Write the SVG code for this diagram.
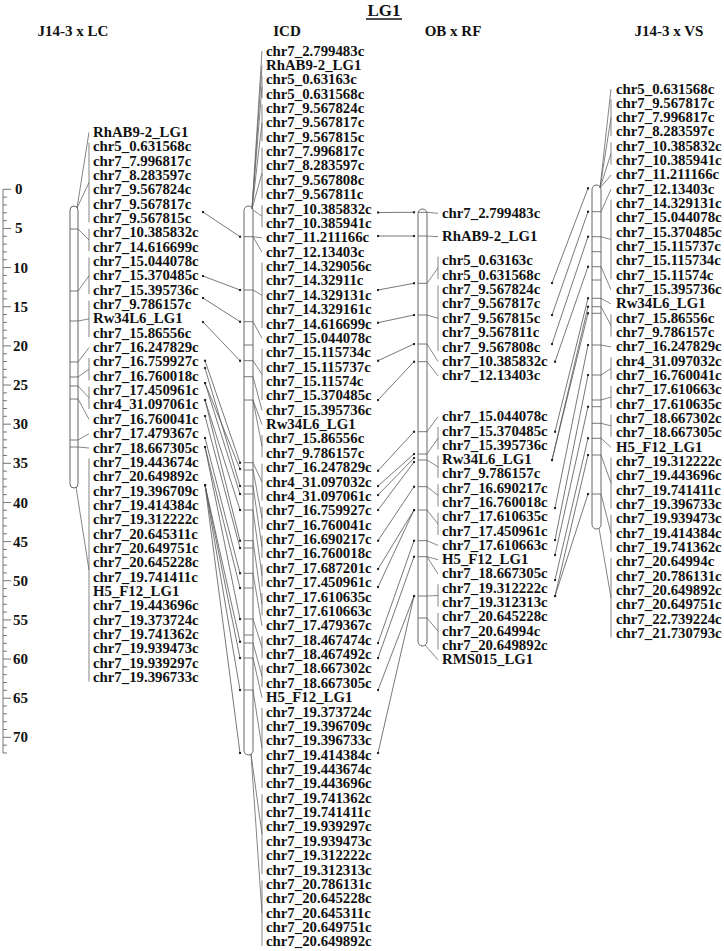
<svg xmlns="http://www.w3.org/2000/svg" width="724" height="951" viewBox="0 0 724 951">
<defs>
<style>
text{font-family:"Liberation Serif","Times New Roman",serif;font-weight:bold;fill:#111}
.lb{font-size:14.8px}
.hd{font-size:15px;text-anchor:middle}
.sc{font-size:15px}
.bar{fill:#fff;stroke:#555;stroke-width:0.9}
.ln{fill:none;stroke:#666;stroke-width:0.8}
.tk{fill:none;stroke:#555;stroke-width:0.8}
.cn{stroke:#555;stroke-width:0.8;marker-start:url(#dot);marker-end:url(#dot)}
</style>
<marker id="dot" viewBox="0 0 4 4" refX="2" refY="2" markerWidth="3" markerHeight="3" markerUnits="userSpaceOnUse"><circle cx="2" cy="2" r="1.6" fill="#222"/></marker>
</defs>
<rect width="724" height="951" fill="#fff"/>
<g id="title">
<text x="384" y="16" style="font-size:17px;text-anchor:middle">LG1</text>
<line x1="366" y1="19" x2="402" y2="19" stroke="#111" stroke-width="1.4"/>
<text class="hd" x="73" y="36">J14-3 x LC</text>
<text class="hd" x="287" y="36">ICD</text>
<text class="hd" x="453" y="36">OB x RF</text>
<text class="hd" x="669" y="36">J14-3 x VS</text>
</g>
<g id="scale">
<path class="tk" d="M3 189.3V753M3 189.3h8m-8 7.829h4m-4 7.829h4m-4 7.829h4m-4 7.829h4m-4 7.829h8m-8 7.829h4m-4 7.829h4m-4 7.829h4m-4 7.829h4m-4 7.829h8m-8 7.829h4m-4 7.829h4m-4 7.829h4m-4 7.829h4m-4 7.829h8m-8 7.829h4m-4 7.829h4m-4 7.829h4m-4 7.829h4m-4 7.829h8m-8 7.829h4m-4 7.829h4m-4 7.829h4m-4 7.829h4m-4 7.829h8m-8 7.829h4m-4 7.829h4m-4 7.829h4m-4 7.829h4m-4 7.829h8m-8 7.829h4m-4 7.829h4m-4 7.829h4m-4 7.829h4m-4 7.829h8m-8 7.829h4m-4 7.829h4m-4 7.829h4m-4 7.829h4m-4 7.829h8m-8 7.829h4m-4 7.829h4m-4 7.829h4m-4 7.829h4m-4 7.829h8m-8 7.829h4m-4 7.829h4m-4 7.829h4m-4 7.829h4m-4 7.829h8m-8 7.829h4m-4 7.829h4m-4 7.829h4m-4 7.829h4m-4 7.829h8m-8 7.829h4m-4 7.829h4m-4 7.829h4m-4 7.829h4m-4 7.829h8m-8 7.829h4m-4 7.829h4m-4 7.829h4m-4 7.829h4m-4 7.829h8m-8 7.829h4m-4 7.829h4m-4 7.829h4m-4 7.829h4m-4 7.829h8m-8 7.829h4m-4 7.829h4"/>
<text class="sc" x="15" y="194.3">0</text>
<text class="sc" x="15" y="233.4">5</text>
<text class="sc" x="13" y="272.6">10</text>
<text class="sc" x="13" y="311.7">15</text>
<text class="sc" x="13" y="350.9">20</text>
<text class="sc" x="13" y="390">25</text>
<text class="sc" x="13" y="429.2">30</text>
<text class="sc" x="13" y="468.3">35</text>
<text class="sc" x="13" y="507.5">40</text>
<text class="sc" x="13" y="546.6">45</text>
<text class="sc" x="13" y="585.8">50</text>
<text class="sc" x="13" y="624.9">55</text>
<text class="sc" x="13" y="664">60</text>
<text class="sc" x="13" y="703.2">65</text>
<text class="sc" x="13" y="742.3">70</text>
</g>
<g id="map-J14-3xLC">
<rect class="bar" x="70" y="206" width="8" height="282" rx="4"/>
<path class="tk" d="M70 229h8M70 291h8M70 321h8M70 362h8M70 377h8M70 386h8M70 399h8M70 440h8M70 447h8"/>
<path class="ln" d="M77 208L89 132.3M77 208L89 182.5M89 142.7V222.4M78 229L89 240M89 228.8V251.1M78 291L89 275.8M89 257.5V294.2M78 321L89 318.9M89 300.5V337.2M78 362L89 347.6M78 377L89 369.1M89 357.9V380.3M78 386L89 397.8M89 386.6V409M78 399L89 419.3M78 440L89 433.7M78 447L89 448M76 487L89 570M89 458.4V681.6"/>
<text class="lb" x="93" y="136.8"><tspan x="93" dy="0">RhAB9-2_LG1</tspan><tspan x="93" dy="14.35">chr5_0.631568c</tspan><tspan x="93" dy="14.35">chr7_7.996817c</tspan><tspan x="93" dy="14.35">chr7_8.283597c</tspan><tspan x="93" dy="14.35">chr7_9.567824c</tspan><tspan x="93" dy="14.35">chr7_9.567817c</tspan><tspan x="93" dy="14.35">chr7_9.567815c</tspan><tspan x="93" dy="14.35">chr7_10.385832c</tspan><tspan x="93" dy="14.35">chr7_14.616699c</tspan><tspan x="93" dy="14.35">chr7_15.044078c</tspan><tspan x="93" dy="14.35">chr7_15.370485c</tspan><tspan x="93" dy="14.35">chr7_15.395736c</tspan><tspan x="93" dy="14.35">chr7_9.786157c</tspan><tspan x="93" dy="14.35">Rw34L6_LG1</tspan><tspan x="93" dy="14.35">chr7_15.86556c</tspan><tspan x="93" dy="14.35">chr7_16.247829c</tspan><tspan x="93" dy="14.35">chr7_16.759927c</tspan><tspan x="93" dy="14.35">chr7_16.760018c</tspan><tspan x="93" dy="14.35">chr7_17.450961c</tspan><tspan x="93" dy="14.35">chr4_31.097061c</tspan><tspan x="93" dy="14.35">chr7_16.760041c</tspan><tspan x="93" dy="14.35">chr7_17.479367c</tspan><tspan x="93" dy="14.35">chr7_18.667305c</tspan><tspan x="93" dy="14.35">chr7_19.443674c</tspan><tspan x="93" dy="14.35">chr7_20.649892c</tspan><tspan x="93" dy="14.35">chr7_19.396709c</tspan><tspan x="93" dy="14.35">chr7_19.414384c</tspan><tspan x="93" dy="14.35">chr7_19.312222c</tspan><tspan x="93" dy="14.35">chr7_20.645311c</tspan><tspan x="93" dy="14.35">chr7_20.649751c</tspan><tspan x="93" dy="14.35">chr7_20.645228c</tspan><tspan x="93" dy="14.35">chr7_19.741411c</tspan><tspan x="93" dy="14.35">H5_F12_LG1</tspan><tspan x="93" dy="14.35">chr7_19.443696c</tspan><tspan x="93" dy="14.35">chr7_19.373724c</tspan><tspan x="93" dy="14.35">chr7_19.741362c</tspan><tspan x="93" dy="14.35">chr7_19.939473c</tspan><tspan x="93" dy="14.35">chr7_19.939297c</tspan><tspan x="93" dy="14.35">chr7_19.396733c</tspan></text>
</g>
<g id="map-ICD">
<rect class="bar" x="244" y="206" width="9" height="549" rx="4.5"/>
<path class="tk" d="M244 236.7h9M244 290h9M244 321.7h9M244 345h9M244 360.7h9M244 376.7h9M244 400h9M244 462.7h9M244 470h9M244 486h9M244 494h9M244 510h9M244 540.7h9M244 548h9M244 573.3h9M244 588h9M244 619h9M244 635h9M244 643h9M244 658h9M244 690h9"/>
<path class="ln" d="M252 209L262 51M252 209L262 65.4M252 209L262 86.9M262 75.7V98.1M252 209L262 122.9M262 104.5V141.2M252 209L262 173.2M262 147.6V198.7M253 210L262 216.3M262 205.1V227.4M253 236.7L262 237.8M253 236.7L262 252.2M253 290L262 295.3M262 262.6V328M253 321.7L262 338.4M253 360.7L262 374.4M262 348.8V399.9M253 376.7L262 410.3M253 400L262 424.6M253 400L262 446.2M262 435V457.4M253 462.7L262 482.1M262 463.7V500.5M253 470L262 518M262 506.8V529.2M253 486L262 546.8M262 535.6V558M253 510L262 575.5M262 564.3V586.7M253 540.7L262 604.3M262 593.1V615.4M253 573.3L262 625.8M253 619L262 647.4M262 636.2V658.5M253 643L262 676.1M262 664.9V687.3M253 658L262 697.7M253 690L262 748M262 708V787.9M251 754L262 834.2M262 794.2V874.1M251 754L262 913.2M262 880.5V945.9"/>
<text class="lb" x="266" y="55.5"><tspan x="266" dy="0">chr7_2.799483c</tspan><tspan x="266" dy="14.37">RhAB9-2_LG1</tspan><tspan x="266" dy="14.37">chr5_0.63163c</tspan><tspan x="266" dy="14.37">chr5_0.631568c</tspan><tspan x="266" dy="14.37">chr7_9.567824c</tspan><tspan x="266" dy="14.37">chr7_9.567817c</tspan><tspan x="266" dy="14.37">chr7_9.567815c</tspan><tspan x="266" dy="14.37">chr7_7.996817c</tspan><tspan x="266" dy="14.37">chr7_8.283597c</tspan><tspan x="266" dy="14.37">chr7_9.567808c</tspan><tspan x="266" dy="14.37">chr7_9.567811c</tspan><tspan x="266" dy="14.37">chr7_10.385832c</tspan><tspan x="266" dy="14.37">chr7_10.385941c</tspan><tspan x="266" dy="14.37">chr7_11.211166c</tspan><tspan x="266" dy="14.37">chr7_12.13403c</tspan><tspan x="266" dy="14.37">chr7_14.329056c</tspan><tspan x="266" dy="14.37">chr7_14.32911c</tspan><tspan x="266" dy="14.37">chr7_14.329131c</tspan><tspan x="266" dy="14.37">chr7_14.329161c</tspan><tspan x="266" dy="14.37">chr7_14.616699c</tspan><tspan x="266" dy="14.37">chr7_15.044078c</tspan><tspan x="266" dy="14.37">chr7_15.115734c</tspan><tspan x="266" dy="14.37">chr7_15.115737c</tspan><tspan x="266" dy="14.37">chr7_15.11574c</tspan><tspan x="266" dy="14.37">chr7_15.370485c</tspan><tspan x="266" dy="14.37">chr7_15.395736c</tspan><tspan x="266" dy="14.37">Rw34L6_LG1</tspan><tspan x="266" dy="14.37">chr7_15.86556c</tspan><tspan x="266" dy="14.37">chr7_9.786157c</tspan><tspan x="266" dy="14.37">chr7_16.247829c</tspan><tspan x="266" dy="14.37">chr4_31.097032c</tspan><tspan x="266" dy="14.37">chr4_31.097061c</tspan><tspan x="266" dy="14.37">chr7_16.759927c</tspan><tspan x="266" dy="14.37">chr7_16.760041c</tspan><tspan x="266" dy="14.37">chr7_16.690217c</tspan><tspan x="266" dy="14.37">chr7_16.760018c</tspan><tspan x="266" dy="14.37">chr7_17.687201c</tspan><tspan x="266" dy="14.37">chr7_17.450961c</tspan><tspan x="266" dy="14.37">chr7_17.610635c</tspan><tspan x="266" dy="14.37">chr7_17.610663c</tspan><tspan x="266" dy="14.37">chr7_17.479367c</tspan><tspan x="266" dy="14.37">chr7_18.467474c</tspan><tspan x="266" dy="14.37">chr7_18.467492c</tspan><tspan x="266" dy="14.37">chr7_18.667302c</tspan><tspan x="266" dy="14.37">chr7_18.667305c</tspan><tspan x="266" dy="14.37">H5_F12_LG1</tspan><tspan x="266" dy="14.37">chr7_19.373724c</tspan><tspan x="266" dy="14.37">chr7_19.396709c</tspan><tspan x="266" dy="14.37">chr7_19.396733c</tspan><tspan x="266" dy="14.37">chr7_19.414384c</tspan><tspan x="266" dy="14.37">chr7_19.443674c</tspan><tspan x="266" dy="14.37">chr7_19.443696c</tspan><tspan x="266" dy="14.37">chr7_19.741362c</tspan><tspan x="266" dy="14.37">chr7_19.741411c</tspan><tspan x="266" dy="14.37">chr7_19.939297c</tspan><tspan x="266" dy="14.37">chr7_19.939473c</tspan><tspan x="266" dy="14.37">chr7_19.312222c</tspan><tspan x="266" dy="14.37">chr7_19.312313c</tspan><tspan x="266" dy="14.37">chr7_20.786131c</tspan><tspan x="266" dy="14.37">chr7_20.645228c</tspan><tspan x="266" dy="14.37">chr7_20.645311c</tspan><tspan x="266" dy="14.37">chr7_20.649751c</tspan><tspan x="266" dy="14.37">chr7_20.649892c</tspan></text>
</g>
<g id="map-OBxRF">
<rect class="bar" x="418" y="209" width="9" height="437" rx="4.5"/>
<path class="tk" d="M418 212.3h9M418 236h9M418 283.3h9M418 315h9M418 344h9M418 361.7h9M418 431.7h9M418 454h9M418 460h9M418 486.7h9M418 510h9M418 540.7h9M418 556.7h9M418 596h9M418 618h9"/>
<path class="ln" d="M427 212.3L438 213.3M427 236L438 236.7M427 283.3L438 267.9M438 256.7V279.1M427 315L438 318.3M438 285.5V351.1M427 344L438 361.5M427 361.7L438 375.9M427 431.7L438 416.7M427 454L438 438.2M438 427V449.3M427 460L438 466.8M438 455.6V477.9M427 486.7L438 495.4M438 484.2V506.5M427 510L438 524M438 512.8V535.1M427 540.7L438 545.4M427 556.7L438 559.7M427 556.7L438 574M427 596L438 595.5M438 584.3V606.6M427 618L438 631.2M438 612.9V649.5M425 645L438 659.8"/>
<text class="lb" x="442" y="217.8"><tspan x="442" dy="0">chr7_2.799483c</tspan><tspan x="442" dy="23.4">RhAB9-2_LG1</tspan><tspan x="442" dy="24">chr5_0.63163c</tspan><tspan x="442" dy="14.4">chr5_0.631568c</tspan><tspan x="442" dy="14.4">chr7_9.567824c</tspan><tspan x="442" dy="14.4">chr7_9.567817c</tspan><tspan x="442" dy="14.4">chr7_9.567815c</tspan><tspan x="442" dy="14.4">chr7_9.567811c</tspan><tspan x="442" dy="14.4">chr7_9.567808c</tspan><tspan x="442" dy="14.4">chr7_10.385832c</tspan><tspan x="442" dy="14.4">chr7_12.13403c</tspan><tspan x="442" dy="40.8">chr7_15.044078c</tspan><tspan x="442" dy="14.3">chr7_15.370485c</tspan><tspan x="442" dy="14.3">chr7_15.395736c</tspan><tspan x="442" dy="14.3">Rw34L6_LG1</tspan><tspan x="442" dy="14.3">chr7_9.786157c</tspan><tspan x="442" dy="14.3">chr7_16.690217c</tspan><tspan x="442" dy="14.3">chr7_16.760018c</tspan><tspan x="442" dy="14.3">chr7_17.610635c</tspan><tspan x="442" dy="14.3">chr7_17.450961c</tspan><tspan x="442" dy="14.3">chr7_17.610663c</tspan><tspan x="442" dy="14.3">H5_F12_LG1</tspan><tspan x="442" dy="14.3">chr7_18.667305c</tspan><tspan x="442" dy="14.3">chr7_19.312222c</tspan><tspan x="442" dy="14.3">chr7_19.312313c</tspan><tspan x="442" dy="14.3">chr7_20.645228c</tspan><tspan x="442" dy="14.3">chr7_20.64994c</tspan><tspan x="442" dy="14.3">chr7_20.649892c</tspan><tspan x="442" dy="14.3">RMS015_LG1</tspan></text>
</g>
<g id="map-J14-3xVS">
<rect class="bar" x="592" y="185" width="9" height="344" rx="4.5"/>
<path class="tk" d="M592 211.7h9M592 236.7h9M592 251.7h9M592 266.7h9M592 280h9M592 298.3h9M592 306.7h9M592 313.3h9M592 345h9M592 375h9M592 400h9M592 406.7h9M592 423.3h9M592 438.3h9M592 455h9M592 494h9"/>
<path class="ln" d="M600 188L611 89M600 188L611 117.7M611 99.3V136M600 188L611 153.5M611 142.3V164.7M600 188L611 175M601 211.7L611 189.3M601 236.7L611 239.5M611 199.6V279.3M601 266.7L611 289.6M601 298.3L611 304M601 306.7L611 325.5M611 314.3V336.6M601 345L611 346.9M601 375L611 368.5M611 357.3V379.6M601 400L611 397.1M611 385.9V408.3M601 423.3L611 425.8M611 414.6V436.9M601 438.3L611 447.3M601 455L611 483.1M611 457.6V508.6M601 494L611 533.2M611 514.9V551.6M599 528L611 597.8M611 557.9V637.6"/>
<text class="lb" x="616" y="93.5"><tspan x="616" dy="0">chr5_0.631568c</tspan><tspan x="616" dy="14.33">chr7_9.567817c</tspan><tspan x="616" dy="14.33">chr7_7.996817c</tspan><tspan x="616" dy="14.33">chr7_8.283597c</tspan><tspan x="616" dy="14.33">chr7_10.385832c</tspan><tspan x="616" dy="14.33">chr7_10.385941c</tspan><tspan x="616" dy="14.33">chr7_11.211166c</tspan><tspan x="616" dy="14.33">chr7_12.13403c</tspan><tspan x="616" dy="14.33">chr7_14.329131c</tspan><tspan x="616" dy="14.33">chr7_15.044078c</tspan><tspan x="616" dy="14.33">chr7_15.370485c</tspan><tspan x="616" dy="14.33">chr7_15.115737c</tspan><tspan x="616" dy="14.33">chr7_15.115734c</tspan><tspan x="616" dy="14.33">chr7_15.11574c</tspan><tspan x="616" dy="14.33">chr7_15.395736c</tspan><tspan x="616" dy="14.33">Rw34L6_LG1</tspan><tspan x="616" dy="14.33">chr7_15.86556c</tspan><tspan x="616" dy="14.33">chr7_9.786157c</tspan><tspan x="616" dy="14.33">chr7_16.247829c</tspan><tspan x="616" dy="14.33">chr4_31.097032c</tspan><tspan x="616" dy="14.33">chr7_16.760041c</tspan><tspan x="616" dy="14.33">chr7_17.610663c</tspan><tspan x="616" dy="14.33">chr7_17.610635c</tspan><tspan x="616" dy="14.33">chr7_18.667302c</tspan><tspan x="616" dy="14.33">chr7_18.667305c</tspan><tspan x="616" dy="14.33">H5_F12_LG1</tspan><tspan x="616" dy="14.33">chr7_19.312222c</tspan><tspan x="616" dy="14.33">chr7_19.443696c</tspan><tspan x="616" dy="14.33">chr7_19.741411c</tspan><tspan x="616" dy="14.33">chr7_19.396733c</tspan><tspan x="616" dy="14.33">chr7_19.939473c</tspan><tspan x="616" dy="14.33">chr7_19.414384c</tspan><tspan x="616" dy="14.33">chr7_19.741362c</tspan><tspan x="616" dy="14.33">chr7_20.64994c</tspan><tspan x="616" dy="14.33">chr7_20.786131c</tspan><tspan x="616" dy="14.33">chr7_20.649892c</tspan><tspan x="616" dy="14.33">chr7_20.649751c</tspan><tspan x="616" dy="14.33">chr7_22.739224c</tspan><tspan x="616" dy="14.33">chr7_21.730793c</tspan></text>
</g>
<g id="connectors">
<line class="cn" x1="203" y1="212" x2="240" y2="236.7"/>
<line class="cn" x1="203" y1="276" x2="240" y2="290"/>
<line class="cn" x1="203" y1="298" x2="240" y2="321.7"/>
<line class="cn" x1="203" y1="322" x2="240" y2="360.7"/>
<line class="cn" x1="205" y1="360.7" x2="240" y2="462.7"/>
<line class="cn" x1="205" y1="368" x2="240" y2="486"/>
<line class="cn" x1="205" y1="383" x2="240" y2="469"/>
<line class="cn" x1="205" y1="383" x2="240" y2="494"/>
<line class="cn" x1="205" y1="400" x2="240" y2="510"/>
<line class="cn" x1="205" y1="400" x2="240" y2="540.7"/>
<line class="cn" x1="205" y1="416" x2="240" y2="548"/>
<line class="cn" x1="205" y1="438" x2="240" y2="573.3"/>
<line class="cn" x1="205" y1="447" x2="240" y2="588"/>
<line class="cn" x1="205" y1="447" x2="240" y2="619"/>
<line class="cn" x1="205" y1="485" x2="240" y2="641.7"/>
<line class="cn" x1="205" y1="485" x2="240" y2="658"/>
<line class="cn" x1="205" y1="485" x2="240" y2="690"/>
<line class="cn" x1="205" y1="485" x2="240" y2="753"/>
<line class="cn" x1="378" y1="212.5" x2="414" y2="212.3"/>
<line class="cn" x1="378" y1="236" x2="414" y2="236"/>
<line class="cn" x1="378" y1="290" x2="414" y2="283.3"/>
<line class="cn" x1="378" y1="322.7" x2="414" y2="315"/>
<line class="cn" x1="378" y1="360.7" x2="414" y2="344"/>
<line class="cn" x1="378" y1="400" x2="414" y2="361.7"/>
<line class="cn" x1="378" y1="470.7" x2="414" y2="431.7"/>
<line class="cn" x1="378" y1="486" x2="414" y2="454"/>
<line class="cn" x1="378" y1="495" x2="414" y2="458"/>
<line class="cn" x1="378" y1="510" x2="414" y2="462"/>
<line class="cn" x1="378" y1="540.7" x2="414" y2="486.7"/>
<line class="cn" x1="378" y1="569" x2="414" y2="510"/>
<line class="cn" x1="378" y1="587" x2="414" y2="510"/>
<line class="cn" x1="378" y1="643" x2="414" y2="540.7"/>
<line class="cn" x1="378" y1="658" x2="414" y2="556.7"/>
<line class="cn" x1="378" y1="690" x2="414" y2="596"/>
<line class="cn" x1="378" y1="753" x2="414" y2="596"/>
<line class="cn" x1="552" y1="283" x2="588" y2="188.3"/>
<line class="cn" x1="552" y1="315" x2="588" y2="211.7"/>
<line class="cn" x1="552" y1="344" x2="588" y2="236.7"/>
<line class="cn" x1="555" y1="361.7" x2="588" y2="266.7"/>
<line class="cn" x1="555" y1="431.7" x2="588" y2="298.3"/>
<line class="cn" x1="552" y1="460" x2="588" y2="306.7"/>
<line class="cn" x1="552" y1="460" x2="588" y2="313.3"/>
<line class="cn" x1="555" y1="508" x2="588" y2="345"/>
<line class="cn" x1="555" y1="540" x2="588" y2="375"/>
<line class="cn" x1="555" y1="555" x2="588" y2="406.7"/>
<line class="cn" x1="555" y1="580" x2="588" y2="438.3"/>
<line class="cn" x1="555" y1="596" x2="588" y2="455"/>
<line class="cn" x1="555" y1="596" x2="588" y2="494"/>
</g>
</svg>
